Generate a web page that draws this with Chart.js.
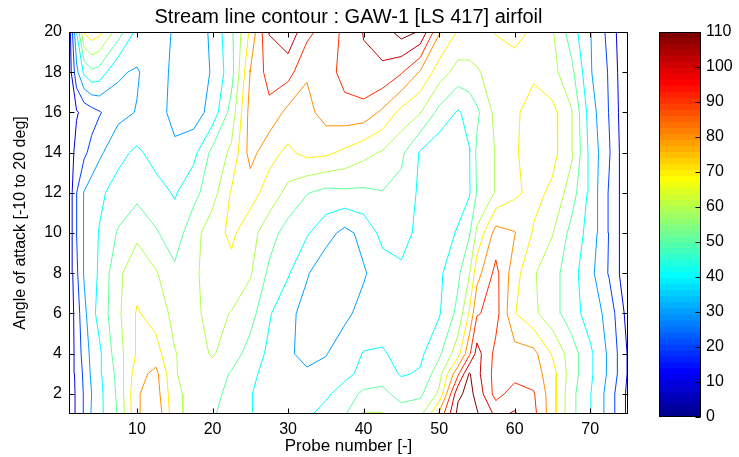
<!DOCTYPE html>
<html>
<head>
<meta charset="utf-8">
<script src="https://cdn.jsdelivr.net/npm/chart.js@4.4.1/dist/chart.umd.min.js"></script>
<style>
  body { margin: 0; background: #fff; }
  #wrap { position: relative; width: 739px; height: 457px; }
  #contour { position: absolute; left: 0; top: 0; }
  #cbar { position: absolute; left: 640px; top: 0; }
</style>
</head>
<body>
<div id="wrap">
  <canvas id="contour" width="739" height="457"></canvas>
  <canvas id="cbar" width="99" height="457"></canvas>
</div>
<script>
// grid of the stream function: one row per angle, one column per probe
const probeNumbers = [1, 2, 3, 4, 5, 7.5, 10, 12.5, 15, 17.5, 20, 22.5, 25, 27.5, 30, 32.5, 35, 37.5,
  40, 42.5, 45, 47.5, 50, 52.5, 54, 55, 57.5, 60, 62.5, 65, 67.5, 70, 72.5, 74, 75];
const angles = [1, 2, 3, 4, 6, 8, 10, 12, 14, 16, 18, 20];
const streamValues = [
  [2, 12, 21, 31, 37, 51, 78, 88, 63, 56, 51, 46, 40.5, 37, 35, 38, 44, 49, 61, 60.5, 55, 57, 82, 113, 116, 111, 98, 101, 93, 74, 53, 40.5, 25, 14, 8],
  [2, 12, 21, 30, 37, 52, 79, 85, 62, 57, 53, 47, 40.5, 36, 33, 34, 38, 45, 52, 53, 46, 48, 62, 108, 113, 107, 86, 95, 91, 74, 53, 40.5, 26, 14, 8],
  [2, 13, 22, 32, 38, 53, 76, 83, 60.5, 57, 56, 49, 42, 37, 33, 31, 33, 37, 43, 45, 39, 41, 56, 88, 111, 103, 86, 86, 85, 74, 55, 42, 28, 17, 9],
  [2, 14, 24, 33, 38, 56, 71, 74, 60.5, 56, 61, 55, 46, 38, 31, 28, 29.5, 35, 40.5, 41, 37, 38, 48, 66, 88, 104, 87, 84, 83, 69, 55, 42, 28, 17, 9],
  [2, 15, 27, 37, 43, 58, 71, 66, 57, 58, 63, 59.5, 54, 41, 33, 26, 24, 28, 33, 35, 35, 36, 39, 53, 71, 89, 94, 70.5, 62, 54, 45, 35, 27, 13, 7],
  [2, 18, 31, 37, 41, 58, 66, 61, 52, 58, 65, 67, 61, 48, 41, 31, 23, 24, 29, 35, 38, 37, 38, 48, 59.5, 76, 93, 74, 61, 54, 44, 33, 19, 9, 5],
  [3, 20, 31, 36, 40.5, 51, 58, 51, 45, 56, 66, 72, 64, 54, 46, 41, 34, 27, 33, 43, 44, 37, 35, 41, 49, 62, 84, 80.5, 69, 60.5, 47, 36, 19.5, 9, 4],
  [3, 19.5, 30.5, 35, 38, 44, 47, 44, 39, 47, 56, 71, 74, 66, 57, 50.5, 47, 48, 48, 49.5, 47, 38, 35, 36, 39, 50.5, 61, 68, 73, 68, 55, 37, 19, 9, 4],
  [3, 14, 18, 23, 28, 37, 42, 36, 32, 37, 53, 62, 84, 73, 68, 73, 72, 68, 63, 59, 52, 39, 33, 34, 39.5, 52, 60.5, 69, 74, 73, 62, 37, 21, 9, 4],
  [2, 9, 13, 16, 19, 27, 30.5, 34, 27, 25, 34, 54, 84, 87, 77, 77, 84, 86, 86, 78, 67, 60.5, 47, 39, 43, 48, 63, 68, 75, 73, 61, 35, 19.5, 8, 3],
  [3, 27, 42, 48, 46, 31, 29, 36, 27, 24, 31, 46, 80.5, 94, 94, 81, 85, 94, 98, 98, 91, 79, 65, 56, 57, 59, 64, 67, 68, 63, 53, 31, 19, 7, 3],
  [3, 40, 71, 76, 73, 55, 37, 34, 29, 24, 32, 48, 72, 100.5, 107, 93, 85, 92, 100.5, 105, 114, 109, 81, 69, 67, 66, 70.5, 72, 69, 61, 45, 30.5, 17, 6, 2]
];
const contourLevels = [10, 20, 30, 40, 50, 60, 70, 80, 90, 100, 110];
const probeTicks = [10, 20, 30, 40, 50, 60, 70];
const angleTicks = [2, 4, 6, 8, 10, 12, 14, 16, 18, 20];
const colourbarTicks = [0, 10, 20, 30, 40, 50, 60, 70, 80, 90, 100, 110];
const cMin = 0, cMax = 110;

const FAMILY = "'Liberation Sans', Arial, Helvetica, sans-serif";
const tickFont = { family: FAMILY, size: 16 };
const labelFont = { family: FAMILY, size: 17 };
const titleFont = { family: FAMILY, size: 20 };
Chart.defaults.color = '#000';
Chart.defaults.font.family = FAMILY;

// matlab style jet, 64 steps
function jet(k) {
  const clamp = v => Math.max(0, Math.min(1, v));
  const r = k < 56 ? clamp((k - 23) / 16) : 1 - (k - 55) / 16;
  const g = k < 40 ? clamp((k - 7) / 16) : clamp(1 - (k - 39) / 16);
  const b = k < 24 ? Math.min(1, 0.5625 + k / 16) : clamp(1 - (k - 23) / 16);
  return `rgb(${Math.round(r * 255)},${Math.round(g * 255)},${Math.round(b * 255)})`;
}
const levelColour = v => jet(Math.min(63, Math.floor((v - cMin) / (cMax - cMin) * 64)));

// marching squares on the (non uniform) probe/angle grid
function traceLevel(level) {
  const z = streamValues, xs = probeNumbers, ys = angles;
  const points = new Map();
  const edgePoint = (kind, j, i) => {
    const key = kind + j + '_' + i;
    if (!points.has(key)) {
      if (kind === 'h') {
        const a = z[j][i], b = z[j][i + 1], t = (level - a) / (b - a);
        points.set(key, { x: xs[i] + t * (xs[i + 1] - xs[i]), y: ys[j] });
      } else {
        const a = z[j][i], b = z[j + 1][i], t = (level - a) / (b - a);
        points.set(key, { x: xs[i], y: ys[j] + t * (ys[j + 1] - ys[j]) });
      }
    }
    return key;
  };
  const segs = [];
  for (let j = 0; j < ys.length - 1; j++) {
    for (let i = 0; i < xs.length - 1; i++) {
      const c = [z[j][i], z[j][i + 1], z[j + 1][i + 1], z[j + 1][i]];
      const edges = [[0, 1, 'h', j, i], [1, 2, 'v', j, i + 1], [3, 2, 'h', j + 1, i], [0, 3, 'v', j, i]];
      const hit = edges.map(([a, b]) => (c[a] >= level) !== (c[b] >= level));
      const keys = edges.map((e, n) => hit[n] ? edgePoint(e[2], e[3], e[4]) : null);
      const on = keys.filter(k => k);
      if (on.length === 2) {
        segs.push(on);
      } else if (on.length === 4) {
        const centre = (c[0] + c[1] + c[2] + c[3]) / 4;
        if ((centre >= level) === (c[0] >= level)) {
          segs.push([keys[0], keys[1]], [keys[2], keys[3]]);
        } else {
          segs.push([keys[3], keys[0]], [keys[1], keys[2]]);
        }
      }
    }
  }
  // join the cell segments into polylines
  const byKey = new Map();
  segs.forEach((s, n) => s.forEach(k => {
    if (!byKey.has(k)) byKey.set(k, []);
    byKey.get(k).push(n);
  }));
  const used = new Array(segs.length).fill(false);
  const walk = (n, key) => {
    const keys = [key];
    let cur = n;
    while (cur !== undefined && !used[cur]) {
      used[cur] = true;
      const s = segs[cur];
      key = s[0] === key ? s[1] : s[0];
      keys.push(key);
      cur = byKey.get(key).find(m => !used[m]);
    }
    return keys.map(k => points.get(k));
  };
  const lines = [];
  for (const [k, list] of byKey) {
    if (list.length === 1 && !used[list[0]]) lines.push(walk(list[0], k));
  }
  segs.forEach((s, n) => { if (!used[n]) lines.push(walk(n, s[0])); });
  return lines;
}

const datasets = [];
contourLevels.forEach(level => {
  traceLevel(level).forEach(line => datasets.push({
    data: line,
    showLine: true,
    borderColor: levelColour(level),
    borderWidth: 1,
    pointRadius: 0,
    tension: 0,
    fill: false
  }));
});

// black box with inward tick marks
const axesBox = {
  id: 'axesBox',
  afterDatasetsDraw(chart, args, opts) {
    const { ctx, chartArea: a } = chart;
    const len = opts.tick || 5;
    ctx.save();
    ctx.strokeStyle = '#000';
    ctx.lineWidth = 1;
    const L = Math.round(a.left) + 0.5, R = Math.round(a.right) - 0.5;
    const T = Math.round(a.top) + 0.5, B = Math.round(a.bottom) - 0.5;
    ctx.strokeRect(L, T, R - L, B - T);
    ctx.beginPath();
    (opts.scales || []).forEach(id => {
      const s = chart.scales[id];
      s.ticks.forEach(t => {
        const p = Math.round(s.getPixelForValue(t.value)) + 0.5;
        if (s.isHorizontal()) {
          ctx.moveTo(p, B); ctx.lineTo(p, B - len);
          ctx.moveTo(p, T); ctx.lineTo(p, T + len);
        } else {
          if (opts.left !== false) { ctx.moveTo(L, p); ctx.lineTo(L + len, p); }
          ctx.moveTo(R, p); ctx.lineTo(R - len, p);
        }
      });
    });
    ctx.stroke();
    ctx.restore();
  }
};

new Chart(document.getElementById('contour'), {
  type: 'scatter',
  data: { datasets },
  options: {
    responsive: false,
    animation: false,
    events: [],
    layout: { padding: { left: 0, right: 111, top: 0, bottom: 0 } },
    plugins: {
      legend: { display: false },
      tooltip: { enabled: false },
      axesBox: { tick: 5, scales: ['x', 'y'] }
    },
    scales: {
      x: {
        type: 'linear', min: 1, max: 75,
        grid: { display: false, drawTicks: false },
        border: { display: false },
        ticks: { font: tickFont, padding: 6, maxRotation: 0 },
        afterBuildTicks: s => { s.ticks = probeTicks.map(v => ({ value: v })); },
        afterFit: s => { s.height = 43; },
        title: { display: true, text: 'Probe number [-]', font: labelFont, padding: { top: 0, bottom: 0 } }
      },
      // top axis only carries the plot title, centred over the axes box
      xTop: {
        type: 'linear', position: 'top', min: 1, max: 75,
        grid: { display: false, drawTicks: false },
        border: { display: false },
        ticks: { display: false },
        afterFit: s => { s.height = 32; },
        title: { display: true, text: 'Stream line contour : GAW-1 [LS 417] airfoil', font: titleFont, padding: { top: 5, bottom: 0 } }
      },
      y: {
        type: 'linear', min: 1, max: 20,
        grid: { display: false, drawTicks: false },
        border: { display: false },
        ticks: { font: tickFont, padding: 7 },
        afterBuildTicks: s => { s.ticks = angleTicks.map(v => ({ value: v })); },
        afterFit: s => { s.width = 69; },
        title: { display: true, text: 'Angle of attack [-10 to 20 deg]', font: { family: FAMILY, size: 16 }, padding: { top: 11, bottom: 0 } }
      }
    }
  },
  plugins: [axesBox]
});

// colour bar: 64 floating bars stacked on one category
const steps = 64;
const bandSets = [];
for (let k = 0; k < steps; k++) {
  bandSets.push({
    data: [[cMin + k * (cMax - cMin) / steps, cMin + (k + 1) * (cMax - cMin) / steps]],
    backgroundColor: jet(k),
    borderWidth: 0,
    barPercentage: 1,
    categoryPercentage: 1,
    grouped: false
  });
}

new Chart(document.getElementById('cbar'), {
  type: 'bar',
  data: { labels: [''], datasets: bandSets },
  options: {
    responsive: false,
    animation: false,
    events: [],
    layout: { padding: { left: 19, right: 0, top: 32, bottom: 40 } },
    plugins: {
      legend: { display: false },
      tooltip: { enabled: false },
      axesBox: { tick: 5, left: false, scales: ['y'] }
    },
    scales: {
      x: { display: false },
      y: {
        position: 'right', min: cMin, max: cMax,
        grid: { display: false, drawTicks: false },
        border: { display: false },
        ticks: { font: tickFont, padding: 5 },
        afterBuildTicks: s => { s.ticks = colourbarTicks.map(v => ({ value: v })); },
        afterFit: s => { s.width = 38; }
      }
    }
  },
  plugins: [axesBox]
});
</script>
</body>
</html>
